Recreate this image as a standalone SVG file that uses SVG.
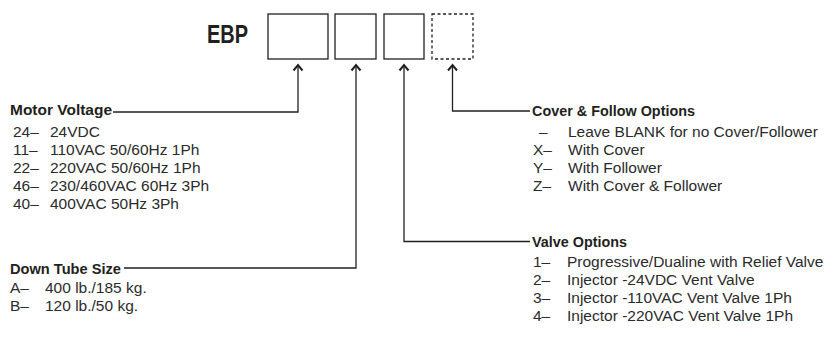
<svg xmlns="http://www.w3.org/2000/svg" width="835" height="339" viewBox="0 0 835 339">
<style>
text{font-family:"Liberation Sans",Arial,sans-serif;fill:#231f20}
.h{font-weight:bold;font-size:15.5px}
.i{font-size:15.5px;fill:#2b2b2b}
.box{fill:none;stroke:#231f20;stroke-width:1.3}
.dash{stroke-dasharray:3 2.5}
.c{fill:none;stroke:#231f20;stroke-width:1.3}
</style>
<defs>
<marker id="ah" markerUnits="userSpaceOnUse" markerWidth="12" markerHeight="12" refX="10" refY="6" orient="auto" viewBox="0 0 12 12">
<path d="M4.5 1.5 L10 6 L4.5 10.5" fill="none" stroke="#231f20" stroke-width="2"/>
</marker>
</defs>
<g id="code">
<text x="207" y="43" font-size="25" font-weight="bold" textLength="41" lengthAdjust="spacingAndGlyphs">EBP</text>
<rect class="box" x="268" y="14" width="60" height="45"/>
<rect class="box" x="335" y="14" width="41" height="45"/>
<rect class="box" x="384" y="14" width="40" height="45"/>
<rect class="box dash" x="432" y="14" width="41" height="45"/>
</g>
<g id="connectors">
<path class="c" d="M113 112 H298 V65" marker-end="url(#ah)"/>
<path class="c" d="M124 268 H356 V65" marker-end="url(#ah)"/>
<path class="c" d="M530 241.5 H404 V65" marker-end="url(#ah)"/>
<path class="c" d="M530 111 H452.5 V65" marker-end="url(#ah)"/>
</g>
<g id="motor-voltage">
<text class="h" x="10" y="115" textLength="102" lengthAdjust="spacingAndGlyphs">Motor Voltage</text>
<text class="i" x="13" y="137">24–</text><text class="i" x="50" y="137">24VDC</text>
<text class="i" x="13" y="155">11–</text><text class="i" x="50" y="155">110VAC 50/60Hz 1Ph</text>
<text class="i" x="13" y="173">22–</text><text class="i" x="50" y="173">220VAC 50/60Hz 1Ph</text>
<text class="i" x="13" y="191">46–</text><text class="i" x="50" y="191">230/460VAC 60Hz 3Ph</text>
<text class="i" x="13" y="209">40–</text><text class="i" x="50" y="209">400VAC 50Hz 3Ph</text>
</g>
<g id="down-tube-size">
<text class="h" x="10" y="274" textLength="111" lengthAdjust="spacingAndGlyphs">Down Tube Size</text>
<text class="i" x="10" y="293">A–</text><text class="i" x="45" y="293">400 lb./185 kg.</text>
<text class="i" x="10" y="311">B–</text><text class="i" x="45" y="311">120 lb./50 kg.</text>
</g>
<g id="cover-follow-options">
<text class="h" x="532" y="116" textLength="163" lengthAdjust="spacingAndGlyphs">Cover &amp; Follow Options</text>
<text class="i" x="539" y="137">–</text><text class="i" x="568" y="137">Leave BLANK for no Cover/Follower</text>
<text class="i" x="533" y="155">X–</text><text class="i" x="568" y="155">With Cover</text>
<text class="i" x="533" y="173">Y–</text><text class="i" x="568" y="173">With Follower</text>
<text class="i" x="533" y="191">Z–</text><text class="i" x="568" y="191">With Cover &amp; Follower</text>
</g>
<g id="valve-options">
<text class="h" x="532" y="247" textLength="95" lengthAdjust="spacingAndGlyphs">Valve Options</text>
<text class="i" x="533" y="267">1–</text><text class="i" x="567" y="267">Progressive/Dualine with Relief Valve</text>
<text class="i" x="533" y="285">2–</text><text class="i" x="567" y="285">Injector -24VDC Vent Valve</text>
<text class="i" x="533" y="303">3–</text><text class="i" x="567" y="303">Injector -110VAC Vent Valve 1Ph</text>
<text class="i" x="533" y="321">4–</text><text class="i" x="567" y="321">Injector -220VAC Vent Valve 1Ph</text>
</g>
</svg>
